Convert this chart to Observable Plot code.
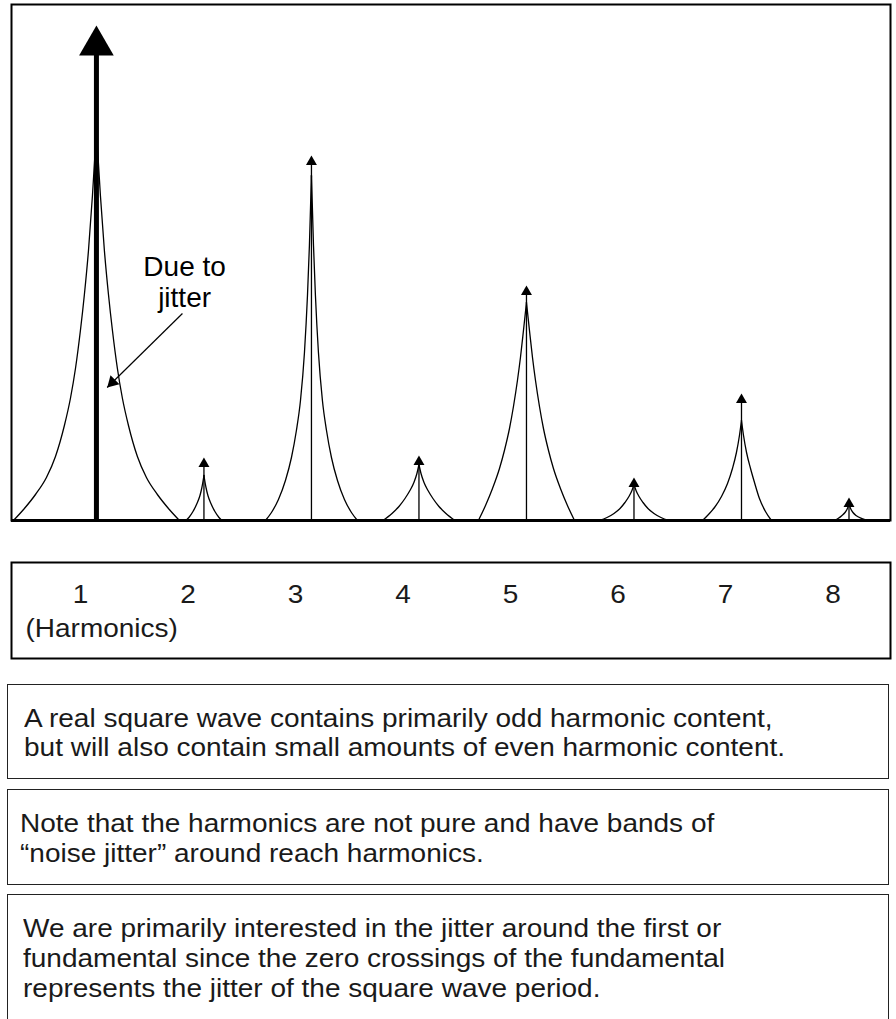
<!DOCTYPE html>
<html><head><meta charset="utf-8">
<script src="https://cdn.jsdelivr.net/npm/d3@7"></script>
<script src="https://cdn.jsdelivr.net/npm/@observablehq/plot@0.6"></script>
<style>
html,body{margin:0;padding:0;background:#fff;overflow:hidden;}
#page{position:relative;width:896px;height:1019px;font-family:"Liberation Sans",Arial,sans-serif;color:#1a1a1a;}
#chart{position:absolute;left:0;top:0;}
#axisbox{position:absolute;left:0;top:560px;}
#chart svg,#axisbox svg{display:block;}
.note{position:absolute;left:7px;width:882px;box-sizing:border-box;border:1.5px solid #222;}
.note .txt{display:inline-block;white-space:nowrap;font-size:25px;line-height:30px;transform:scaleX(1.12);transform-origin:0 0;}
</style></head><body>
<div id="page">
  <div id="chart"></div>
  <div id="axisbox"></div>
  <div class="note" id="note1" style="top:684px;height:95px;padding:18.6px 0 0 15.5px;"></div>
  <div class="note" id="note2" style="top:789px;height:96px;padding:17.5px 0 0 11.5px;"></div>
  <div class="note" id="note3" style="top:894px;height:150px;padding:17.5px 0 0 14.5px;"></div>
</div>
<script>
// ---------- data ----------
const harmonics = [1, 2, 3, 4, 5, 6, 7, 8];
const harmonicLabels = ["1", "2", "3", "4", "5", "6", "7", "8"];
const axisTitle = "(Harmonics)";
// arrow tip heights of each harmonic line
const arrowTips = [495, 63, 365, 65, 235, 43, 127, 23];
// jitter band flanks: [offset from harmonic (harmonic units), height]
const profile1 = [[0,390],[0.037,325],[0.074,270],[0.112,226],[0.149,190],[0.195,152],[0.242,122],[0.298,95],[0.381,64],[0.465,43],[0.567,26],[0.670,12],[0.772,0]];
const profile2 = [[0,45],[0.019,33],[0.037,25],[0.065,17],[0.102,9],[0.140,3],[0.167,0]];
const profile3 = [[0,345],[0.019,275],[0.037,225],[0.065,168],[0.102,120],[0.140,90],[0.186,63],[0.242,40],[0.307,21],[0.372,8],[0.428,0]];
const profile4 = [[0,56],[0.019,47],[0.047,38],[0.084,30],[0.130,22],[0.186,14],[0.251,7],[0.335,0]];
const profile5 = [[0,218],[0.028,190],[0.056,163],[0.084,140],[0.121,114],[0.158,92],[0.205,70],[0.251,52],[0.316,32],[0.381,15],[0.447,0]];
const profile6 = [[0,36],[0.019,30],[0.047,24],[0.084,18],[0.130,12],[0.186,7],[0.251,3],[0.326,0]];
const profile7Left = [[0,100],[0.019,85],[0.047,68],[0.084,52],[0.130,37],[0.186,24],[0.251,13],[0.307,6],[0.363,0]];
const profile7Right = [[0,100],[0.019,85],[0.047,68],[0.084,52],[0.121,38],[0.167,22],[0.223,9],[0.279,0]];
const profile8Left = [[0,16],[0.019,11],[0.037,8],[0.065,5],[0.102,2],[0.140,0]];
const profile8Right = [[0,16],[0.019,11],[0.037,8],[0.065,5],[0.121,2],[0.186,0]];
// annotation
const annotationLines = ["Due to", "jitter"];
const annotationX = 1.82;
const annotationY = [253, 222];
const annotationArrowFrom = [1.80, 207];
const annotationArrowTo = [1.10, 133];
// notes
const note1Lines = ["A real square wave contains primarily odd harmonic content,", "but will also contain small amounts of even harmonic content."];
const note2Lines = ["Note that the harmonics are not pure and have bands of", "\u201Cnoise jitter\u201D around reach harmonics."];
const note3Lines = ["We are primarily interested in the jitter around the first or", "fundamental since the zero crossings of the fundamental", "represents the jitter of the square wave period."];

// ---------- build tables ----------
const leftProfiles = [profile1, profile2, profile3, profile4, profile5, profile6, profile7Left, profile8Left];
const rightProfiles = [profile1, profile2, profile3, profile4, profile5, profile6, profile7Right, profile8Right];
const curvePts = [];
harmonics.forEach((h, i) => {
  leftProfiles[i].slice().reverse().forEach(([o, v]) => curvePts.push({h: h - o, v, side: h + "L"}));
  rightProfiles[i].forEach(([o, v]) => curvePts.push({h: h + o, v, side: h + "R"}));
});
const peaks = harmonics.map((h, i) => ({h, tip: arrowTips[i], main: i === 0}));
const mainPeak = peaks.filter(d => d.main);
const otherPeaks = peaks.filter(d => !d.main);
const xDomain = [0.21, 8.386];
const font = "'Liberation Sans', Arial, sans-serif";

const chart = Plot.plot({
  width: 896, height: 524,
  marginLeft: 11, marginRight: 6, marginTop: 4, marginBottom: 4,
  style: {fontFamily: font, background: "#fff"},
  x: {domain: xDomain, axis: null},
  y: {domain: [0, 516], axis: null},
  marks: [
    Plot.line(curvePts, {x: "h", y: "v", z: "side", curve: "monotone-x", stroke: "#000", strokeWidth: 1.3}),
    Plot.ruleX(otherPeaks, {x: "h", y1: 0, y2: d => d.tip - 8, stroke: "#000", strokeWidth: 1.3}),
    Plot.ruleX(mainPeak, {x: "h", y1: 0, y2: d => d.tip - 28, stroke: "#000", strokeWidth: 5}),
    Plot.dot(otherPeaks, {x: "h", y: "tip", symbol: "triangle", r: 4.07, dy: 6.33, fill: "#000", stroke: "none"}),
    Plot.dot(mainPeak, {x: "h", y: "tip", symbol: "triangle", r: 12.86, dy: 20, fill: "#000", stroke: "none"}),
    Plot.ruleY([0], {stroke: "#000", strokeWidth: 3}),
    Plot.frame({stroke: "#000", strokeWidth: 2}),
    Plot.text(annotationLines, {x: () => annotationX, y: (d, i) => annotationY[i], text: d => d, fontSize: 28, fill: "#000", textAnchor: "middle", lineAnchor: "middle"}),
    Plot.link([{a: annotationArrowFrom, b: annotationArrowTo}], {x1: d => d.a[0], y1: d => d.a[1], x2: d => d.b[0], y2: d => d.b[1], stroke: "#000", strokeWidth: 1.2}),
    Plot.dot([annotationArrowTo], {x: d => d[0], y: d => d[1], symbol: "triangle", r: 4.7, rotate: 225, dx: 5.2, dy: -5.1, fill: "#000", stroke: "none"})
  ]
});
document.getElementById("chart").appendChild(chart);

const axisBox = Plot.plot({
  width: 896, height: 100,
  marginLeft: 11, marginRight: 6, marginTop: 2, marginBottom: 2,
  style: {fontFamily: font, background: "#fff"},
  x: {domain: xDomain, axis: null},
  marks: [
    Plot.frame({stroke: "#000", strokeWidth: 2}),
    Plot.text(harmonics, {x: d => d, text: (d, i) => harmonicLabels[i], frameAnchor: "top", lineAnchor: "middle", dy: 32, dx: -16, fontSize: 25, fill: "#1a1a1a"}),
    Plot.text([axisTitle], {frameAnchor: "top-left", lineAnchor: "middle", text: d => d, dx: 14, dy: 66, textAnchor: "start", fontSize: 25, fill: "#1a1a1a"})
  ]
});
// horizontal stretch of the label glyphs, around each label's anchor point
axisBox.querySelectorAll("text").forEach(el => {
  const x = +(el.getAttribute("x") || 0);
  const t = el.getAttribute("transform") || "";
  el.setAttribute("transform", `${t} translate(${x},0) scale(1.12,1) translate(${-x},0)`);
});
document.getElementById("axisbox").appendChild(axisBox);

function fillNote(id, lines) {
  const span = document.createElement("div");
  span.className = "txt";
  lines.forEach((l, i) => {
    if (i) span.appendChild(document.createElement("br"));
    span.appendChild(document.createTextNode(l));
  });
  document.getElementById(id).appendChild(span);
}
fillNote("note1", note1Lines);
fillNote("note2", note2Lines);
fillNote("note3", note3Lines);
document.querySelector("#note1 .txt").style.lineHeight = "29px";
</script>
</body></html>
